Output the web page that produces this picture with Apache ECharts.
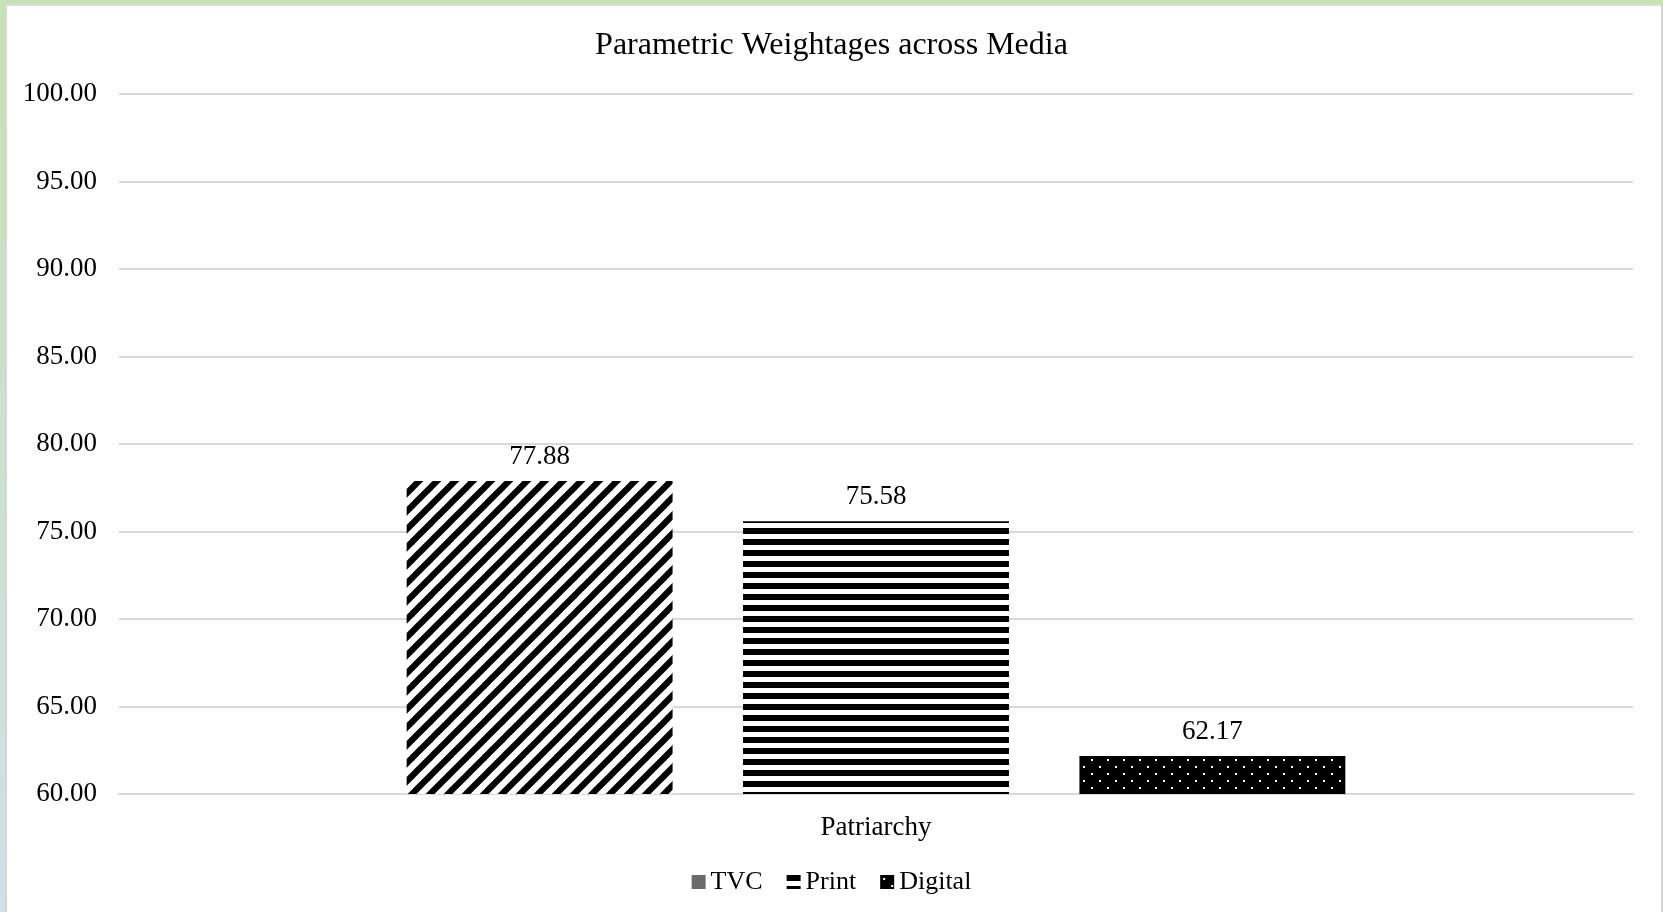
<!DOCTYPE html>
<html>
<head>
<meta charset="utf-8">
<script src="https://cdn.jsdelivr.net/npm/echarts@6/dist/echarts.min.js"></script>
<style>
  html, body { margin: 0; padding: 0; }
  body { width: 1663px; height: 912px; position: relative; overflow: hidden;
         background: linear-gradient(to bottom, #c7e2b8 0%, #cbe1d4 60%, #cfe0e6 100%); }
  #frame { position: absolute; left: 5px; top: 4px; right: 0; bottom: 0;
           background: #ffffff; border-left: 2px solid #d6d6d6; border-top: 2px solid #dcdcdc;
           border-right: 2px solid #d4d4d4; box-sizing: border-box; }
  #chart { position: absolute; left: 0; top: 0; width: 1663px; height: 912px; }
</style>
</head>
<body>
<div id="frame"></div>
<div id="chart"></div>
<script>
const titleText = 'Parametric Weightages across Media';
const categories = ['Patriarchy'];
const seriesNames = ['TVC', 'Print', 'Digital'];
const tvcValues = [77.88];
const printValues = [75.58];
const digitalValues = [62.17];
const yTicks = { min: 60, max: 100, interval: 5 };

// Fill patterns for the bars
function diagonalPattern() {
  const s = 18, c = document.createElement('canvas');
  c.width = s; c.height = s;
  const g = c.getContext('2d');
  g.fillStyle = '#fff'; g.fillRect(0, 0, s, s);
  g.strokeStyle = '#000'; g.lineWidth = 6.2;
  for (const o of [-s, 0, s]) {
    g.beginPath(); g.moveTo(o - s, 2 * s); g.lineTo(o + 2 * s, -s); g.stroke();
  }
  return c;
}
function horizontalPattern() {
  const c = document.createElement('canvas');
  c.width = 8; c.height = 11;
  const g = c.getContext('2d');
  g.fillStyle = '#fff'; g.fillRect(0, 0, 8, 11);
  g.fillStyle = '#000'; g.fillRect(0, 0, 8, 6);
  return c;
}
function dotPattern() {
  const c = document.createElement('canvas');
  c.width = 16; c.height = 14;
  const g = c.getContext('2d');
  g.fillStyle = '#000'; g.fillRect(0, 0, 16, 14);
  g.fillStyle = '#fff';
  g.fillRect(3, 3, 2, 2);
  g.fillRect(11, 10, 2, 2);
  return c;
}

const fills = [
  { image: diagonalPattern(), repeat: 'repeat' },
  { image: horizontalPattern(), repeat: 'repeat' },
  { image: dotPattern(), repeat: 'repeat' }
];
const values = [tvcValues, printValues, digitalValues];

const font = '"Liberation Serif", "Times New Roman", serif';
const chart = echarts.init(document.getElementById('chart'), null, { renderer: 'canvas' });

chart.setOption({
  backgroundColor: 'transparent',
  animation: false,
  textStyle: { fontFamily: font, color: '#000' },
  title: {
    text: titleText, left: 'center', top: 25,
    textStyle: { fontFamily: font, fontSize: 32, fontWeight: 'normal', color: '#000' }
  },
  legend: {
    bottom: 12, left: 'center', itemWidth: 14, itemHeight: 14, itemGap: 24,
    icon: 'rect',
    textStyle: { fontFamily: font, fontSize: 26, color: '#000' },
    data: [
      { name: 'TVC', itemStyle: { color: '#6b6b6b' } },
      { name: 'Print', itemStyle: { color: fills[1] } },
      { name: 'Digital', itemStyle: { color: fills[2] } }
    ]
  },
  grid: { left: 119, right: 30, top: 94, bottom: 118 },
  xAxis: {
    type: 'category', data: categories,
    axisLine: { show: true, lineStyle: { color: '#d9d9d9', width: 2 } },
    axisTick: { show: false },
    axisLabel: { fontFamily: font, fontSize: 27, color: '#000', margin: 20 }
  },
  yAxis: {
    type: 'value', min: yTicks.min, max: yTicks.max, interval: yTicks.interval,
    axisLine: { show: false }, axisTick: { show: false },
    axisLabel: { fontFamily: font, fontSize: 27, color: '#000', margin: 22,
                 formatter: v => v.toFixed(2) },
    splitLine: { lineStyle: { color: '#d9d9d9', width: 2 } }
  },
  series: seriesNames.map((name, i) => ({
    name, type: 'bar', data: values[i],
    barGap: '26.5%', barCategoryGap: '38%',
    itemStyle: { color: fills[i] },
    label: { show: true, position: 'top', distance: 11, fontFamily: font, fontSize: 27,
             color: '#000', formatter: p => p.value.toFixed(2) }
  }))
});
</script>
</body>
</html>
